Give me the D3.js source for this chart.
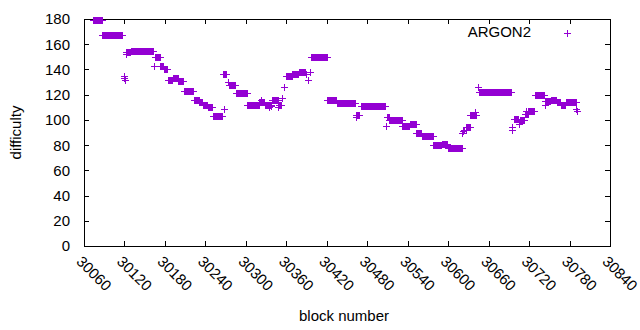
<!DOCTYPE html>
<html>
<head>
<meta charset="utf-8">
<script src="https://d3js.org/d3.v7.min.js"></script>
<style>
  body { margin: 0; background: #fff; }
  text { font-family: "Liberation Sans", Arial, sans-serif; font-size: 15px; fill: #000; }
</style>
</head>
<body>
<div id="my_dataviz"></div>
<script>

// runs of blocks that share one difficulty (first block, last block, difficulty)
var runStart = [30073, 30087, 30123, 30129, 30165, 30173, 30178, 30184, 30192, 30200,
                30208, 30223, 30231, 30236, 30244, 30251, 30266, 30275, 30285, 30302,
                30320, 30328, 30339, 30349, 30360, 30369, 30379, 30397, 30421, 30435,
                30464, 30471, 30510, 30513, 30532, 30543, 30553, 30561, 30578, 30591,
                30600, 30627, 30633, 30645, 30698, 30706, 30714, 30719, 30729, 30744,
                30752, 30761, 30767, 30775];
var runEnd   = [30086, 30117, 30128, 30163, 30172, 30177, 30183, 30191, 30199, 30207,
                30222, 30230, 30235, 30243, 30250, 30265, 30271, 30284, 30301, 30319,
                30327, 30338, 30347, 30352, 30368, 30378, 30388, 30420, 30434, 30462,
                30468, 30507, 30512, 30531, 30542, 30552, 30560, 30577, 30590, 30599,
                30620, 30632, 30641, 30693, 30704, 30713, 30718, 30728, 30742, 30751,
                30760, 30766, 30774, 30789];
var runDifficulty = [179, 167, 154, 155, 150, 143, 140, 132, 133, 131,
                     123, 116, 114, 112, 110, 103, 136, 128, 121, 112,
                     114, 112, 116, 112, 135, 136, 138, 150, 116, 113,
                     104, 111, 102, 100, 95, 97, 90, 87, 80, 81,
                     78, 94, 104, 122, 101, 100, 105, 107, 120, 115,
                     116, 114, 112, 114];

// single blocks that stand apart
var singleBlock = [30119, 30120, 30121, 30122, 30164, 30267, 30274, 30322, 30334, 30337,
                   30348, 30353, 30357, 30389, 30392, 30395, 30463, 30508, 30621, 30622,
                   30624, 30626, 30640, 30644, 30694, 30695, 30705, 30715, 30743, 30790,
                   30791];
var singleDifficulty = [133, 135, 132, 152, 143, 109, 130, 116, 110, 111,
                        110, 117, 126, 136, 132, 138, 102, 95, 90, 91,
                        92, 92, 106, 126, 92, 94, 97, 107, 112, 109,
                        107];

var xTicks = [30060, 30120, 30180, 30240, 30300, 30360, 30420, 30480, 30540, 30600, 30660, 30720, 30780, 30840];
var yTicks = [0, 20, 40, 60, 80, 100, 120, 140, 160, 180];
var seriesName = "ARGON2";

// set the dimensions and margins of the graph
var margin = {top: 19, right: 30, bottom: 84, left: 84};
var width = 640 - margin.left - margin.right;
var height = 330 - margin.top - margin.bottom;
var purple = "#9400d3";

var svg = d3.select("#my_dataviz").append("svg")
    .attr("width", 640)
    .attr("height", 330)
  .append("g")
    .attr("transform", "translate(" + margin.left + "," + margin.top + ")");

var x = d3.scaleLinear().domain([30060, 30840]).range([0, width]);
var y = d3.scaleLinear().domain([0, 180]).range([height, 0]);

// one point per block
var points = [];
for (var i = 0; i < runStart.length; i++) {
  for (var b = runStart[i]; b <= runEnd[i]; b++) {
    points.push({block: b, difficulty: runDifficulty[i]});
  }
}
for (var j = 0; j < singleBlock.length; j++) {
  points.push({block: singleBlock[j], difficulty: singleDifficulty[j]});
}

function plus(px, py, r) {
  px = Math.round(px) + 0.5;
  py = Math.round(py) + 0.5;
  return "M" + (px - r) + "," + py + "H" + (px + r) + "M" + px + "," + (py - r) + "V" + (py + r);
}

// ticks on all four sides, pointing inward
var tickLen = 5;
var axes = svg.append("g").attr("stroke", "#000").attr("stroke-width", 1).attr("shape-rendering", "crispEdges");
xTicks.forEach(function(t) {
  var px = Math.round(x(t)) + 0.5;
  axes.append("line").attr("x1", px).attr("x2", px).attr("y1", height).attr("y2", height - tickLen);
  axes.append("line").attr("x1", px).attr("x2", px).attr("y1", 0).attr("y2", tickLen);
});
yTicks.forEach(function(t) {
  var py = Math.round(y(t)) + 0.5;
  axes.append("line").attr("x1", 0).attr("x2", tickLen).attr("y1", py).attr("y2", py);
  axes.append("line").attr("x1", width).attr("x2", width - tickLen).attr("y1", py).attr("y2", py);
});
axes.append("rect")
  .attr("x", 0.5).attr("y", 0.5)
  .attr("width", Math.round(width)).attr("height", Math.round(height))
  .attr("fill", "none");

// tick labels
svg.append("g").selectAll("text")
  .data(yTicks)
  .enter().append("text")
    .attr("x", -14)
    .attr("y", function(d) { return y(d); })
    .attr("dy", "0.36em")
    .attr("text-anchor", "end")
    .text(function(d) { return d; });

svg.append("g").selectAll("text")
  .data(xTicks)
  .enter().append("text")
    .attr("transform", function(d) { return "translate(" + (x(d) - 1) + "," + (height + 9) + ") rotate(45)"; })
    .attr("dy", "0.7em")
    .attr("text-anchor", "start")
    .text(function(d) { return d; });

// axis titles
svg.append("text")
  .attr("transform", "translate(" + (-63) + "," + (height / 2) + ") rotate(-90)")
  .attr("text-anchor", "middle")
  .text("difficulty");

svg.append("text")
  .attr("x", width / 2 - 3)
  .attr("y", height + 75)
  .attr("text-anchor", "middle")
  .text("block number");

// the points
svg.append("path")
  .attr("fill", "none")
  .attr("stroke", purple)
  .attr("stroke-width", 1)
  .attr("shape-rendering", "crispEdges")
  .attr("d", points.map(function(d) { return plus(x(d.block), y(d.difficulty), 3.5); }).join(""));

// legend
svg.append("text")
  .attr("x", 447)
  .attr("y", 18)
  .attr("text-anchor", "end")
  .text(seriesName);
svg.append("path")
  .attr("fill", "none")
  .attr("stroke", purple)
  .attr("shape-rendering", "crispEdges")
  .attr("d", plus(483, 14, 3.5));

</script>
</body>
</html>
